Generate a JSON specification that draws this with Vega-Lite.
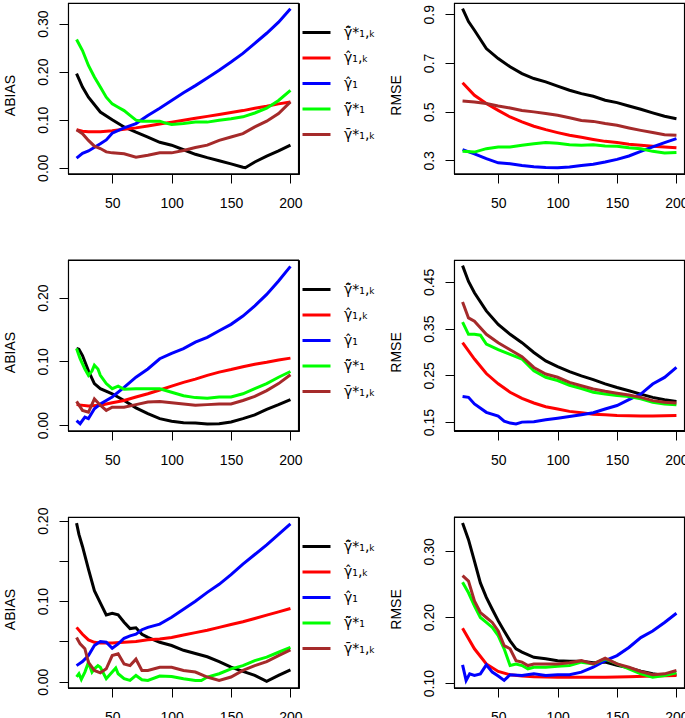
{
"$schema": "https://vega.github.io/schema/vega-lite/v6.json",
"background": "white",
"padding": {"left": 2, "top": 1, "right": 0, "bottom": 0},
"config": {
  "font": "Liberation Sans",
  "view": {"stroke": "black", "strokeWidth": 1},
  "axis": {"grid": false, "domain": true, "domainColor": "black", "domainWidth": 1, "tickColor": "black", "tickSize": 9, "tickWidth": 1, "labelColor": "black", "labelFontSize": 14, "titleFontSize": 14, "titleFontWeight": "normal", "titleColor": "black", "labelFont": "Liberation Sans", "titleFont": "Liberation Sans", "labelOverlap": false, "labelFlush": false},
  "axisBottom": {"labelPadding": 24, "labelBaseline": "alphabetic", "labelAlign": "center"},
  "axisLeft": {"labelAngle": -90, "labelAlign": "center", "labelBaseline": "alphabetic", "labelPadding": 11.5, "titleAngle": -90, "titleX": -54, "titleY": 92, "titleBaseline": "alphabetic", "titleAlign": "center"},
  "rule": {"stroke": "black", "strokeWidth": 1.2},
  "legend": {"orient": "none", "legendX": 233, "legendY": 14, "title": null, "symbolType": "stroke", "symbolSize": 784, "symbolStrokeWidth": 3, "labelFontSize": 14, "labelFont": "DejaVu Sans", "labelColor": "black", "labelOffset": 12, "rowPadding": 2.5, "padding": 0}
},
"columns": 2,
"spacing": {"row": 86, "column": 155},
"bounds": "flush",
"resolve": {"scale": {"color": "independent", "x": "independent", "y": "independent"}, "legend": {"color": "independent"}},
"datasets": {
"box": [{"k": 1}],
"p1": [
{"s":"a","x":20,"y":0.196},{"s":"a","x":25,"y":0.168},{"s":"a","x":30,"y":0.147},{"s":"a","x":40,"y":0.116},{"s":"a","x":50,"y":0.100},{"s":"a","x":60,"y":0.085},{"s":"a","x":70,"y":0.074},{"s":"a","x":80,"y":0.064},{"s":"a","x":90,"y":0.053},{"s":"a","x":100,"y":0.047},{"s":"a","x":110,"y":0.0375},{"s":"a","x":120,"y":0.028},{"s":"a","x":130,"y":0.021},{"s":"a","x":140,"y":0.0146},{"s":"a","x":150,"y":0.008},{"s":"a","x":160,"y":0.001},{"s":"a","x":162,"y":0.0},{"s":"a","x":170,"y":0.012},{"s":"a","x":180,"y":0.024},{"s":"a","x":190,"y":0.035},{"s":"a","x":200,"y":0.047},
{"s":"b","x":20,"y":0.079},{"s":"b","x":25,"y":0.076},{"s":"b","x":30,"y":0.075},{"s":"b","x":40,"y":0.075},{"s":"b","x":50,"y":0.077},{"s":"b","x":60,"y":0.080},{"s":"b","x":70,"y":0.083},{"s":"b","x":80,"y":0.087},{"s":"b","x":90,"y":0.091},{"s":"b","x":100,"y":0.095},{"s":"b","x":110,"y":0.099},{"s":"b","x":120,"y":0.103},{"s":"b","x":130,"y":0.107},{"s":"b","x":140,"y":0.111},{"s":"b","x":150,"y":0.115},{"s":"b","x":160,"y":0.119},{"s":"b","x":170,"y":0.124},{"s":"b","x":180,"y":0.128},{"s":"b","x":190,"y":0.133},{"s":"b","x":200,"y":0.137},
{"s":"c","x":20,"y":0.020},{"s":"c","x":25,"y":0.030},{"s":"c","x":30,"y":0.035},{"s":"c","x":40,"y":0.050},{"s":"c","x":45,"y":0.058},{"s":"c","x":50,"y":0.072},{"s":"c","x":60,"y":0.083},{"s":"c","x":70,"y":0.092},{"s":"c","x":80,"y":0.109},{"s":"c","x":90,"y":0.124},{"s":"c","x":100,"y":0.140},{"s":"c","x":110,"y":0.156},{"s":"c","x":120,"y":0.171},{"s":"c","x":130,"y":0.187},{"s":"c","x":140,"y":0.203},{"s":"c","x":150,"y":0.220},{"s":"c","x":160,"y":0.238},{"s":"c","x":170,"y":0.259},{"s":"c","x":180,"y":0.280},{"s":"c","x":190,"y":0.303},{"s":"c","x":200,"y":0.331},
{"s":"d","x":20,"y":0.267},{"s":"d","x":25,"y":0.244},{"s":"d","x":30,"y":0.213},{"s":"d","x":35,"y":0.189},{"s":"d","x":40,"y":0.168},{"s":"d","x":45,"y":0.147},{"s":"d","x":50,"y":0.133},{"s":"d","x":55,"y":0.126},{"s":"d","x":60,"y":0.119},{"s":"d","x":65,"y":0.109},{"s":"d","x":70,"y":0.099},{"s":"d","x":75,"y":0.097},{"s":"d","x":80,"y":0.097},{"s":"d","x":90,"y":0.097},{"s":"d","x":95,"y":0.093},{"s":"d","x":100,"y":0.090},{"s":"d","x":110,"y":0.092},{"s":"d","x":120,"y":0.095},{"s":"d","x":130,"y":0.095},{"s":"d","x":140,"y":0.099},{"s":"d","x":150,"y":0.102},{"s":"d","x":160,"y":0.106},{"s":"d","x":170,"y":0.114},{"s":"d","x":180,"y":0.124},{"s":"d","x":190,"y":0.140},{"s":"d","x":200,"y":0.161},
{"s":"e","x":20,"y":0.079},{"s":"e","x":25,"y":0.071},{"s":"e","x":30,"y":0.057},{"s":"e","x":35,"y":0.045},{"s":"e","x":40,"y":0.040},{"s":"e","x":45,"y":0.033},{"s":"e","x":50,"y":0.031},{"s":"e","x":60,"y":0.029},{"s":"e","x":70,"y":0.022},{"s":"e","x":80,"y":0.026},{"s":"e","x":90,"y":0.031},{"s":"e","x":100,"y":0.031},{"s":"e","x":110,"y":0.036},{"s":"e","x":120,"y":0.042},{"s":"e","x":130,"y":0.047},{"s":"e","x":140,"y":0.057},{"s":"e","x":150,"y":0.064},{"s":"e","x":160,"y":0.071},{"s":"e","x":170,"y":0.085},{"s":"e","x":180,"y":0.097},{"s":"e","x":190,"y":0.113},{"s":"e","x":200,"y":0.137}
],
"p2": [
{"s":"a","x":20,"y":0.923},{"s":"a","x":25,"y":0.870},{"s":"a","x":30,"y":0.834},{"s":"a","x":40,"y":0.759},{"s":"a","x":50,"y":0.718},{"s":"a","x":60,"y":0.684},{"s":"a","x":70,"y":0.656},{"s":"a","x":80,"y":0.636},{"s":"a","x":90,"y":0.622},{"s":"a","x":100,"y":0.605},{"s":"a","x":110,"y":0.588},{"s":"a","x":120,"y":0.574},{"s":"a","x":130,"y":0.563},{"s":"a","x":140,"y":0.547},{"s":"a","x":150,"y":0.537},{"s":"a","x":160,"y":0.523},{"s":"a","x":170,"y":0.510},{"s":"a","x":180,"y":0.495},{"s":"a","x":190,"y":0.481},{"s":"a","x":200,"y":0.471},
{"s":"b","x":20,"y":0.619},{"s":"b","x":30,"y":0.567},{"s":"b","x":40,"y":0.533},{"s":"b","x":50,"y":0.505},{"s":"b","x":60,"y":0.478},{"s":"b","x":70,"y":0.458},{"s":"b","x":80,"y":0.440},{"s":"b","x":90,"y":0.426},{"s":"b","x":100,"y":0.414},{"s":"b","x":110,"y":0.403},{"s":"b","x":120,"y":0.395},{"s":"b","x":130,"y":0.386},{"s":"b","x":140,"y":0.378},{"s":"b","x":150,"y":0.373},{"s":"b","x":160,"y":0.366},{"s":"b","x":170,"y":0.362},{"s":"b","x":180,"y":0.358},{"s":"b","x":190,"y":0.355},{"s":"b","x":200,"y":0.352},
{"s":"c","x":20,"y":0.344},{"s":"c","x":30,"y":0.327},{"s":"c","x":40,"y":0.307},{"s":"c","x":50,"y":0.290},{"s":"c","x":60,"y":0.286},{"s":"c","x":70,"y":0.279},{"s":"c","x":80,"y":0.274},{"s":"c","x":90,"y":0.271},{"s":"c","x":100,"y":0.270},{"s":"c","x":110,"y":0.273},{"s":"c","x":120,"y":0.279},{"s":"c","x":130,"y":0.284},{"s":"c","x":140,"y":0.293},{"s":"c","x":150,"y":0.304},{"s":"c","x":160,"y":0.318},{"s":"c","x":170,"y":0.337},{"s":"c","x":180,"y":0.355},{"s":"c","x":190,"y":0.373},{"s":"c","x":200,"y":0.389},
{"s":"d","x":20,"y":0.337},{"s":"d","x":30,"y":0.334},{"s":"d","x":40,"y":0.348},{"s":"d","x":50,"y":0.355},{"s":"d","x":60,"y":0.355},{"s":"d","x":70,"y":0.362},{"s":"d","x":80,"y":0.368},{"s":"d","x":90,"y":0.373},{"s":"d","x":100,"y":0.370},{"s":"d","x":110,"y":0.364},{"s":"d","x":120,"y":0.362},{"s":"d","x":130,"y":0.364},{"s":"d","x":140,"y":0.359},{"s":"d","x":150,"y":0.358},{"s":"d","x":160,"y":0.352},{"s":"d","x":170,"y":0.348},{"s":"d","x":180,"y":0.337},{"s":"d","x":190,"y":0.330},{"s":"d","x":200,"y":0.332},
{"s":"e","x":20,"y":0.544},{"s":"e","x":30,"y":0.540},{"s":"e","x":40,"y":0.533},{"s":"e","x":50,"y":0.523},{"s":"e","x":60,"y":0.515},{"s":"e","x":70,"y":0.505},{"s":"e","x":80,"y":0.499},{"s":"e","x":90,"y":0.492},{"s":"e","x":100,"y":0.485},{"s":"e","x":110,"y":0.475},{"s":"e","x":120,"y":0.464},{"s":"e","x":130,"y":0.460},{"s":"e","x":140,"y":0.451},{"s":"e","x":150,"y":0.444},{"s":"e","x":160,"y":0.433},{"s":"e","x":170,"y":0.423},{"s":"e","x":180,"y":0.414},{"s":"e","x":190,"y":0.405},{"s":"e","x":200,"y":0.403}
],
"p3": [
{"s":"a","x":20,"y":0.120},{"s":"a","x":22,"y":0.119},{"s":"a","x":25,"y":0.109},{"s":"a","x":30,"y":0.085},{"s":"a","x":35,"y":0.065},{"s":"a","x":40,"y":0.057},{"s":"a","x":50,"y":0.049},{"s":"a","x":60,"y":0.0385},{"s":"a","x":70,"y":0.027},{"s":"a","x":80,"y":0.018},{"s":"a","x":90,"y":0.010},{"s":"a","x":100,"y":0.006},{"s":"a","x":110,"y":0.0036},{"s":"a","x":120,"y":0.003},{"s":"a","x":130,"y":0.0016},{"s":"a","x":140,"y":0.002},{"s":"a","x":150,"y":0.0047},{"s":"a","x":160,"y":0.010},{"s":"a","x":170,"y":0.016},{"s":"a","x":180,"y":0.0245},{"s":"a","x":190,"y":0.032},{"s":"a","x":200,"y":0.040},
{"s":"b","x":20,"y":0.032},{"s":"b","x":30,"y":0.030},{"s":"b","x":40,"y":0.031},{"s":"b","x":50,"y":0.035},{"s":"b","x":60,"y":0.0385},{"s":"b","x":70,"y":0.044},{"s":"b","x":80,"y":0.049},{"s":"b","x":90,"y":0.055},{"s":"b","x":100,"y":0.061},{"s":"b","x":110,"y":0.067},{"s":"b","x":120,"y":0.072},{"s":"b","x":130,"y":0.078},{"s":"b","x":140,"y":0.083},{"s":"b","x":150,"y":0.087},{"s":"b","x":160,"y":0.0915},{"s":"b","x":170,"y":0.0955},{"s":"b","x":180,"y":0.0985},{"s":"b","x":190,"y":0.102},{"s":"b","x":200,"y":0.105},
{"s":"c","x":20,"y":0.007},{"s":"c","x":23,"y":0.002},{"s":"c","x":27,"y":0.0125},{"s":"c","x":30,"y":0.010},{"s":"c","x":35,"y":0.0255},{"s":"c","x":40,"y":0.033},{"s":"c","x":50,"y":0.044},{"s":"c","x":60,"y":0.059},{"s":"c","x":70,"y":0.075},{"s":"c","x":80,"y":0.088},{"s":"c","x":90,"y":0.104},{"s":"c","x":100,"y":0.1125},{"s":"c","x":110,"y":0.120},{"s":"c","x":120,"y":0.130},{"s":"c","x":130,"y":0.1375},{"s":"c","x":140,"y":0.148},{"s":"c","x":150,"y":0.158},{"s":"c","x":160,"y":0.171},{"s":"c","x":170,"y":0.187},{"s":"c","x":180,"y":0.205},{"s":"c","x":190,"y":0.226},{"s":"c","x":200,"y":0.249},
{"s":"d","x":20,"y":0.120},{"s":"d","x":23,"y":0.104},{"s":"d","x":27,"y":0.088},{"s":"d","x":30,"y":0.078},{"s":"d","x":33,"y":0.085},{"s":"d","x":35,"y":0.094},{"s":"d","x":38,"y":0.088},{"s":"d","x":40,"y":0.078},{"s":"d","x":45,"y":0.065},{"s":"d","x":50,"y":0.057},{"s":"d","x":55,"y":0.061},{"s":"d","x":60,"y":0.056},{"s":"d","x":70,"y":0.057},{"s":"d","x":80,"y":0.057},{"s":"d","x":90,"y":0.057},{"s":"d","x":100,"y":0.0515},{"s":"d","x":110,"y":0.046},{"s":"d","x":120,"y":0.043},{"s":"d","x":130,"y":0.042},{"s":"d","x":140,"y":0.044},{"s":"d","x":150,"y":0.044},{"s":"d","x":160,"y":0.049},{"s":"d","x":170,"y":0.057},{"s":"d","x":180,"y":0.065},{"s":"d","x":190,"y":0.075},{"s":"d","x":200,"y":0.084},
{"s":"e","x":20,"y":0.037},{"s":"e","x":25,"y":0.023},{"s":"e","x":30,"y":0.020},{"s":"e","x":35,"y":0.041},{"s":"e","x":40,"y":0.031},{"s":"e","x":45,"y":0.023},{"s":"e","x":50,"y":0.028},{"s":"e","x":60,"y":0.028},{"s":"e","x":70,"y":0.032},{"s":"e","x":80,"y":0.036},{"s":"e","x":90,"y":0.037},{"s":"e","x":100,"y":0.035},{"s":"e","x":110,"y":0.033},{"s":"e","x":120,"y":0.031},{"s":"e","x":130,"y":0.032},{"s":"e","x":140,"y":0.033},{"s":"e","x":150,"y":0.033},{"s":"e","x":160,"y":0.0385},{"s":"e","x":170,"y":0.045},{"s":"e","x":180,"y":0.054},{"s":"e","x":190,"y":0.065},{"s":"e","x":200,"y":0.079}
],
"p4": [
{"s":"a","x":20,"y":0.485},{"s":"a","x":25,"y":0.451},{"s":"a","x":30,"y":0.427},{"s":"a","x":40,"y":0.388},{"s":"a","x":50,"y":0.359},{"s":"a","x":60,"y":0.338},{"s":"a","x":70,"y":0.320},{"s":"a","x":80,"y":0.299},{"s":"a","x":90,"y":0.281},{"s":"a","x":100,"y":0.269},{"s":"a","x":110,"y":0.258},{"s":"a","x":120,"y":0.249},{"s":"a","x":130,"y":0.241},{"s":"a","x":140,"y":0.232},{"s":"a","x":150,"y":0.224},{"s":"a","x":160,"y":0.217},{"s":"a","x":170,"y":0.210},{"s":"a","x":180,"y":0.203},{"s":"a","x":190,"y":0.198},{"s":"a","x":200,"y":0.194},
{"s":"b","x":20,"y":0.320},{"s":"b","x":30,"y":0.285},{"s":"b","x":40,"y":0.254},{"s":"b","x":50,"y":0.232},{"s":"b","x":60,"y":0.214},{"s":"b","x":70,"y":0.201},{"s":"b","x":80,"y":0.191},{"s":"b","x":90,"y":0.183},{"s":"b","x":100,"y":0.178},{"s":"b","x":110,"y":0.173},{"s":"b","x":120,"y":0.170},{"s":"b","x":130,"y":0.167},{"s":"b","x":140,"y":0.1656},{"s":"b","x":150,"y":0.164},{"s":"b","x":160,"y":0.1635},{"s":"b","x":170,"y":0.163},{"s":"b","x":180,"y":0.163},{"s":"b","x":190,"y":0.1635},{"s":"b","x":200,"y":0.164},
{"s":"c","x":20,"y":0.205},{"s":"c","x":25,"y":0.203},{"s":"c","x":30,"y":0.189},{"s":"c","x":40,"y":0.171},{"s":"c","x":50,"y":0.163},{"s":"c","x":55,"y":0.152},{"s":"c","x":60,"y":0.148},{"s":"c","x":65,"y":0.146},{"s":"c","x":70,"y":0.150},{"s":"c","x":80,"y":0.151},{"s":"c","x":90,"y":0.155},{"s":"c","x":100,"y":0.1585},{"s":"c","x":110,"y":0.162},{"s":"c","x":120,"y":0.1656},{"s":"c","x":130,"y":0.170},{"s":"c","x":140,"y":0.178},{"s":"c","x":150,"y":0.1855},{"s":"c","x":160,"y":0.198},{"s":"c","x":170,"y":0.210},{"s":"c","x":180,"y":0.2316},{"s":"c","x":190,"y":0.2457},{"s":"c","x":200,"y":0.267},
{"s":"d","x":20,"y":0.364},{"s":"d","x":25,"y":0.338},{"s":"d","x":30,"y":0.338},{"s":"d","x":35,"y":0.336},{"s":"d","x":40,"y":0.317},{"s":"d","x":50,"y":0.305},{"s":"d","x":60,"y":0.295},{"s":"d","x":70,"y":0.285},{"s":"d","x":80,"y":0.260},{"s":"d","x":90,"y":0.246},{"s":"d","x":100,"y":0.239},{"s":"d","x":110,"y":0.229},{"s":"d","x":120,"y":0.222},{"s":"d","x":130,"y":0.214},{"s":"d","x":140,"y":0.210},{"s":"d","x":150,"y":0.207},{"s":"d","x":160,"y":0.205},{"s":"d","x":170,"y":0.200},{"s":"d","x":180,"y":0.1925},{"s":"d","x":190,"y":0.189},{"s":"d","x":200,"y":0.187},
{"s":"e","x":20,"y":0.407},{"s":"e","x":25,"y":0.373},{"s":"e","x":30,"y":0.366},{"s":"e","x":35,"y":0.352},{"s":"e","x":40,"y":0.338},{"s":"e","x":50,"y":0.320},{"s":"e","x":60,"y":0.305},{"s":"e","x":70,"y":0.290},{"s":"e","x":80,"y":0.267},{"s":"e","x":90,"y":0.253},{"s":"e","x":100,"y":0.246},{"s":"e","x":110,"y":0.235},{"s":"e","x":120,"y":0.228},{"s":"e","x":130,"y":0.221},{"s":"e","x":140,"y":0.216},{"s":"e","x":150,"y":0.212},{"s":"e","x":160,"y":0.208},{"s":"e","x":170,"y":0.203},{"s":"e","x":180,"y":0.196},{"s":"e","x":190,"y":0.1925},{"s":"e","x":200,"y":0.191}
],
"p5": [
{"s":"a","x":20,"y":0.197},{"s":"a","x":22,"y":0.183},{"s":"a","x":25,"y":0.168},{"s":"a","x":30,"y":0.140},{"s":"a","x":35,"y":0.113},{"s":"a","x":40,"y":0.098},{"s":"a","x":45,"y":0.083},{"s":"a","x":50,"y":0.085},{"s":"a","x":55,"y":0.083},{"s":"a","x":60,"y":0.074},{"s":"a","x":65,"y":0.066},{"s":"a","x":70,"y":0.067},{"s":"a","x":75,"y":0.059},{"s":"a","x":80,"y":0.055},{"s":"a","x":90,"y":0.049},{"s":"a","x":100,"y":0.045},{"s":"a","x":110,"y":0.039},{"s":"a","x":120,"y":0.035},{"s":"a","x":130,"y":0.031},{"s":"a","x":140,"y":0.025},{"s":"a","x":150,"y":0.018},{"s":"a","x":160,"y":0.0128},{"s":"a","x":170,"y":0.0078},{"s":"a","x":180,"y":0.0004},{"s":"a","x":190,"y":0.0078},{"s":"a","x":200,"y":0.0148},
{"s":"b","x":20,"y":0.0675},{"s":"b","x":25,"y":0.059},{"s":"b","x":30,"y":0.052},{"s":"b","x":35,"y":0.049},{"s":"b","x":40,"y":0.048},{"s":"b","x":50,"y":0.048},{"s":"b","x":60,"y":0.049},{"s":"b","x":70,"y":0.050},{"s":"b","x":80,"y":0.052},{"s":"b","x":90,"y":0.053},{"s":"b","x":100,"y":0.055},{"s":"b","x":110,"y":0.058},{"s":"b","x":120,"y":0.061},{"s":"b","x":130,"y":0.064},{"s":"b","x":140,"y":0.0675},{"s":"b","x":150,"y":0.071},{"s":"b","x":160,"y":0.0745},{"s":"b","x":170,"y":0.0786},{"s":"b","x":180,"y":0.0827},{"s":"b","x":190,"y":0.0868},{"s":"b","x":200,"y":0.091},
{"s":"c","x":20,"y":0.020},{"s":"c","x":25,"y":0.025},{"s":"c","x":30,"y":0.0325},{"s":"c","x":35,"y":0.045},{"s":"c","x":40,"y":0.050},{"s":"c","x":45,"y":0.049},{"s":"c","x":50,"y":0.0416},{"s":"c","x":55,"y":0.047},{"s":"c","x":60,"y":0.054},{"s":"c","x":65,"y":0.057},{"s":"c","x":70,"y":0.059},{"s":"c","x":75,"y":0.0646},{"s":"c","x":80,"y":0.0675},{"s":"c","x":90,"y":0.0716},{"s":"c","x":100,"y":0.080},{"s":"c","x":110,"y":0.090},{"s":"c","x":120,"y":0.100},{"s":"c","x":130,"y":0.111},{"s":"c","x":140,"y":0.121},{"s":"c","x":150,"y":0.133},{"s":"c","x":160,"y":0.146},{"s":"c","x":170,"y":0.158},{"s":"c","x":180,"y":0.170},{"s":"c","x":190,"y":0.183},{"s":"c","x":200,"y":0.196},
{"s":"d","x":20,"y":0.006},{"s":"d","x":22,"y":0.0099},{"s":"d","x":24,"y":0.003},{"s":"d","x":27,"y":0.012},{"s":"d","x":30,"y":0.024},{"s":"d","x":33,"y":0.012},{"s":"d","x":35,"y":0.016},{"s":"d","x":38,"y":0.020},{"s":"d","x":40,"y":0.018},{"s":"d","x":45,"y":0.0037},{"s":"d","x":50,"y":0.012},{"s":"d","x":53,"y":0.017},{"s":"d","x":55,"y":0.0099},{"s":"d","x":60,"y":0.0037},{"s":"d","x":65,"y":0.0016},{"s":"d","x":70,"y":0.0078},{"s":"d","x":75,"y":0.0025},{"s":"d","x":80,"y":0.0016},{"s":"d","x":90,"y":0.007},{"s":"d","x":100,"y":0.0066},{"s":"d","x":110,"y":0.0037},{"s":"d","x":120,"y":0.0016},{"s":"d","x":125,"y":0.0016},{"s":"d","x":130,"y":0.0058},{"s":"d","x":140,"y":0.0099},{"s":"d","x":150,"y":0.016},{"s":"d","x":160,"y":0.020},{"s":"d","x":170,"y":0.0263},{"s":"d","x":180,"y":0.0305},{"s":"d","x":190,"y":0.0366},{"s":"d","x":200,"y":0.0428},
{"s":"e","x":20,"y":0.055},{"s":"e","x":23,"y":0.047},{"s":"e","x":27,"y":0.041},{"s":"e","x":30,"y":0.024},{"s":"e","x":35,"y":0.014},{"s":"e","x":40,"y":0.011},{"s":"e","x":45,"y":0.016},{"s":"e","x":50,"y":0.0325},{"s":"e","x":55,"y":0.0346},{"s":"e","x":60,"y":0.022},{"s":"e","x":65,"y":0.020},{"s":"e","x":70,"y":0.028},{"s":"e","x":75,"y":0.014},{"s":"e","x":80,"y":0.014},{"s":"e","x":90,"y":0.018},{"s":"e","x":100,"y":0.018},{"s":"e","x":110,"y":0.014},{"s":"e","x":120,"y":0.012},{"s":"e","x":130,"y":0.0058},{"s":"e","x":140,"y":0.0016},{"s":"e","x":150,"y":0.0058},{"s":"e","x":160,"y":0.014},{"s":"e","x":170,"y":0.020},{"s":"e","x":180,"y":0.025},{"s":"e","x":190,"y":0.0325},{"s":"e","x":200,"y":0.0395}
],
"p6": [
{"s":"a","x":20,"y":0.343},{"s":"a","x":25,"y":0.3176},{"s":"a","x":30,"y":0.285},{"s":"a","x":35,"y":0.252},{"s":"a","x":40,"y":0.230},{"s":"a","x":45,"y":0.212},{"s":"a","x":50,"y":0.1945},{"s":"a","x":55,"y":0.179},{"s":"a","x":60,"y":0.164},{"s":"a","x":65,"y":0.152},{"s":"a","x":70,"y":0.147},{"s":"a","x":80,"y":0.139},{"s":"a","x":90,"y":0.137},{"s":"a","x":100,"y":0.134},{"s":"a","x":110,"y":0.133},{"s":"a","x":120,"y":0.133},{"s":"a","x":130,"y":0.131},{"s":"a","x":140,"y":0.132},{"s":"a","x":150,"y":0.127},{"s":"a","x":160,"y":0.123},{"s":"a","x":170,"y":0.118},{"s":"a","x":180,"y":0.114},{"s":"a","x":190,"y":0.1116},{"s":"a","x":200,"y":0.1126},
{"s":"b","x":20,"y":0.183},{"s":"b","x":30,"y":0.152},{"s":"b","x":40,"y":0.129},{"s":"b","x":50,"y":0.1176},{"s":"b","x":60,"y":0.1126},{"s":"b","x":70,"y":0.1106},{"s":"b","x":80,"y":0.1095},{"s":"b","x":100,"y":0.109},{"s":"b","x":120,"y":0.109},{"s":"b","x":140,"y":0.109},{"s":"b","x":160,"y":0.1095},{"s":"b","x":180,"y":0.1106},{"s":"b","x":200,"y":0.1116},
{"s":"c","x":20,"y":0.1276},{"s":"c","x":23,"y":0.104},{"s":"c","x":26,"y":0.114},{"s":"c","x":30,"y":0.1116},{"s":"c","x":35,"y":0.114},{"s":"c","x":40,"y":0.1276},{"s":"c","x":45,"y":0.1166},{"s":"c","x":50,"y":0.1106},{"s":"c","x":55,"y":0.104},{"s":"c","x":60,"y":0.1126},{"s":"c","x":70,"y":0.1116},{"s":"c","x":80,"y":0.114},{"s":"c","x":90,"y":0.1116},{"s":"c","x":100,"y":0.1126},{"s":"c","x":110,"y":0.1126},{"s":"c","x":120,"y":0.1166},{"s":"c","x":130,"y":0.124},{"s":"c","x":140,"y":0.134},{"s":"c","x":150,"y":0.1417},{"s":"c","x":160,"y":0.154},{"s":"c","x":170,"y":0.169},{"s":"c","x":180,"y":0.179},{"s":"c","x":190,"y":0.192},{"s":"c","x":200,"y":0.206},
{"s":"d","x":20,"y":0.253},{"s":"d","x":25,"y":0.237},{"s":"d","x":30,"y":0.217},{"s":"d","x":35,"y":0.1995},{"s":"d","x":40,"y":0.192},{"s":"d","x":45,"y":0.1844},{"s":"d","x":50,"y":0.172},{"s":"d","x":55,"y":0.152},{"s":"d","x":60,"y":0.1266},{"s":"d","x":65,"y":0.129},{"s":"d","x":70,"y":0.1266},{"s":"d","x":75,"y":0.1216},{"s":"d","x":80,"y":0.124},{"s":"d","x":90,"y":0.124},{"s":"d","x":100,"y":0.1256},{"s":"d","x":110,"y":0.1266},{"s":"d","x":120,"y":0.1317},{"s":"d","x":130,"y":0.129},{"s":"d","x":140,"y":0.1367},{"s":"d","x":150,"y":0.129},{"s":"d","x":160,"y":0.1216},{"s":"d","x":170,"y":0.114},{"s":"d","x":180,"y":0.109},{"s":"d","x":190,"y":0.1116},{"s":"d","x":200,"y":0.1156},
{"s":"e","x":20,"y":0.263},{"s":"e","x":25,"y":0.2548},{"s":"e","x":30,"y":0.2246},{"s":"e","x":35,"y":0.207},{"s":"e","x":40,"y":0.1995},{"s":"e","x":45,"y":0.192},{"s":"e","x":50,"y":0.179},{"s":"e","x":55,"y":0.1568},{"s":"e","x":60,"y":0.152},{"s":"e","x":65,"y":0.134},{"s":"e","x":70,"y":0.1317},{"s":"e","x":75,"y":0.1266},{"s":"e","x":80,"y":0.129},{"s":"e","x":90,"y":0.129},{"s":"e","x":100,"y":0.129},{"s":"e","x":110,"y":0.1307},{"s":"e","x":120,"y":0.134},{"s":"e","x":130,"y":0.129},{"s":"e","x":140,"y":0.1377},{"s":"e","x":150,"y":0.129},{"s":"e","x":160,"y":0.124},{"s":"e","x":170,"y":0.1176},{"s":"e","x":180,"y":0.1126},{"s":"e","x":190,"y":0.114},{"s":"e","x":200,"y":0.119}
]
},
"concat": [
{"width": 231, "height": 171, "view": {"stroke": "black", "strokeWidth": 1},
 "layer": [
  {"data": {"name": "p1"}, "mark": {"type": "line", "strokeWidth": 3},
   "encoding": {
    "x": {"field": "x", "type": "quantitative", "scale": {"domain": [12.8, 207.2], "nice": false, "zero": false}, "axis": {"domain": true, "domainColor": "black", "values": [50, 100, 150, 200], "title": null}},
    "y": {"field": "y", "type": "quantitative", "scale": {"domain": [-0.013, 0.343], "nice": false, "zero": false}, "axis": {"domain": true, "domainColor": "black", "title": "ABIAS", "values": [0, 0.05, 0.1, 0.15, 0.2, 0.25, 0.3], "labelExpr": "round(datum.value*20)%2==0 ? format(datum.value,'.2f') : ''"}},
    "color": {"field": "s", "type": "nominal", "scale": {"domain": ["a","b","c","d","e"], "range": ["#000000","#FF0000","#0000FF","#00FF00","#A52A2A"]}, "legend": {"orient": "none", "legendX": 233, "legendY": 14, "labelExpr": "datum.label=='a'?'γ\u0302\u0303*\u2081,\u2096':datum.label=='b'?'γ\u0302\u2081,\u2096':datum.label=='c'?'γ\u0302\u2081':datum.label=='d'?'γ\u0303\u0303*\u2081':'γ\u0304*\u2081,\u2096'"}}
   }},
  {"data": {"name": "box"}, "mark": {"type": "rule", "stroke": "black", "strokeWidth": 1.2}, "encoding": {"x": {"datum": 13.2, "type": "quantitative"}, "y": {"datum": -0.013, "type": "quantitative"}, "y2": {"datum": 0.343}}},
  {"data": {"name": "box"}, "mark": {"type": "rule", "stroke": "black", "strokeWidth": 1.2}, "encoding": {"x": {"datum": 206.8, "type": "quantitative"}, "y": {"datum": -0.013, "type": "quantitative"}, "y2": {"datum": 0.343}}},
  {"data": {"name": "box"}, "mark": {"type": "rule", "stroke": "black", "strokeWidth": 1.2}, "encoding": {"y": {"datum": 0.3425, "type": "quantitative"}, "x": {"datum": 12.8, "type": "quantitative"}, "x2": {"datum": 207.2}}},
  {"data": {"name": "box"}, "mark": {"type": "rule", "stroke": "black", "strokeWidth": 1.2}, "encoding": {"y": {"datum": -0.0125, "type": "quantitative"}, "x": {"datum": 12.8, "type": "quantitative"}, "x2": {"datum": 207.2}}}
 ]},
{"width": 231, "height": 171, "view": {"stroke": "black", "strokeWidth": 1},
 "layer": [
  {"data": {"name": "p2"}, "mark": {"type": "line", "strokeWidth": 3},
   "encoding": {
    "x": {"field": "x", "type": "quantitative", "scale": {"domain": [12.8, 207.2], "nice": false, "zero": false}, "axis": {"domain": true, "domainColor": "black", "values": [50, 100, 150, 200], "title": null}},
    "y": {"field": "y", "type": "quantitative", "scale": {"domain": [0.244, 0.946], "nice": false, "zero": false}, "axis": {"domain": true, "domainColor": "black", "title": "RMSE", "values": [0.3, 0.4, 0.5, 0.6, 0.7, 0.8, 0.9], "labelExpr": "round(datum.value*10)%2==1 ? format(datum.value,'.1f') : ''"}},
    "color": {"field": "s", "type": "nominal", "scale": {"domain": ["a","b","c","d","e"], "range": ["#000000","#FF0000","#0000FF","#00FF00","#A52A2A"]}, "legend": null}
   }},
  {"data": {"name": "box"}, "mark": {"type": "rule", "stroke": "black", "strokeWidth": 1.2}, "encoding": {"x": {"datum": 13.2, "type": "quantitative"}, "y": {"datum": 0.244, "type": "quantitative"}, "y2": {"datum": 0.946}}},
  {"data": {"name": "box"}, "mark": {"type": "rule", "stroke": "black", "strokeWidth": 1.2}, "encoding": {"x": {"datum": 206.8, "type": "quantitative"}, "y": {"datum": 0.244, "type": "quantitative"}, "y2": {"datum": 0.946}}},
  {"data": {"name": "box"}, "mark": {"type": "rule", "stroke": "black", "strokeWidth": 1.2}, "encoding": {"y": {"datum": 0.945, "type": "quantitative"}, "x": {"datum": 12.8, "type": "quantitative"}, "x2": {"datum": 207.2}}},
  {"data": {"name": "box"}, "mark": {"type": "rule", "stroke": "black", "strokeWidth": 1.2}, "encoding": {"y": {"datum": 0.245, "type": "quantitative"}, "x": {"datum": 12.8, "type": "quantitative"}, "x2": {"datum": 207.2}}}
 ]},
{"width": 231, "height": 171, "view": {"stroke": "black", "strokeWidth": 1},
 "layer": [
  {"data": {"name": "p3"}, "mark": {"type": "line", "strokeWidth": 3},
   "encoding": {
    "x": {"field": "x", "type": "quantitative", "scale": {"domain": [12.8, 207.2], "nice": false, "zero": false}, "axis": {"domain": true, "domainColor": "black", "values": [50, 100, 150, 200], "title": null}},
    "y": {"field": "y", "type": "quantitative", "scale": {"domain": [-0.0094, 0.259], "nice": false, "zero": false}, "axis": {"domain": true, "domainColor": "black", "title": "ABIAS", "values": [0, 0.05, 0.1, 0.15, 0.2, 0.25], "labelExpr": "round(datum.value*20)%2==0 ? format(datum.value,'.2f') : ''"}},
    "color": {"field": "s", "type": "nominal", "scale": {"domain": ["a","b","c","d","e"], "range": ["#000000","#FF0000","#0000FF","#00FF00","#A52A2A"]}, "legend": {"orient": "none", "legendX": 233, "legendY": 14, "labelExpr": "datum.label=='a'?'γ\u0302\u0303*\u2081,\u2096':datum.label=='b'?'γ\u0302\u2081,\u2096':datum.label=='c'?'γ\u0302\u2081':datum.label=='d'?'γ\u0303\u0303*\u2081':'γ\u0304*\u2081,\u2096'"}}
   }},
  {"data": {"name": "box"}, "mark": {"type": "rule", "stroke": "black", "strokeWidth": 1.2}, "encoding": {"x": {"datum": 13.2, "type": "quantitative"}, "y": {"datum": -0.0094, "type": "quantitative"}, "y2": {"datum": 0.259}}},
  {"data": {"name": "box"}, "mark": {"type": "rule", "stroke": "black", "strokeWidth": 1.2}, "encoding": {"x": {"datum": 206.8, "type": "quantitative"}, "y": {"datum": -0.0094, "type": "quantitative"}, "y2": {"datum": 0.259}}},
  {"data": {"name": "box"}, "mark": {"type": "rule", "stroke": "black", "strokeWidth": 1.2}, "encoding": {"y": {"datum": 0.2587, "type": "quantitative"}, "x": {"datum": 12.8, "type": "quantitative"}, "x2": {"datum": 207.2}}},
  {"data": {"name": "box"}, "mark": {"type": "rule", "stroke": "black", "strokeWidth": 1.2}, "encoding": {"y": {"datum": -0.0091, "type": "quantitative"}, "x": {"datum": 12.8, "type": "quantitative"}, "x2": {"datum": 207.2}}}
 ]},
{"width": 231, "height": 171, "view": {"stroke": "black", "strokeWidth": 1},
 "layer": [
  {"data": {"name": "p4"}, "mark": {"type": "line", "strokeWidth": 3},
   "encoding": {
    "x": {"field": "x", "type": "quantitative", "scale": {"domain": [12.8, 207.2], "nice": false, "zero": false}, "axis": {"domain": true, "domainColor": "black", "values": [50, 100, 150, 200], "title": null}},
    "y": {"field": "y", "type": "quantitative", "scale": {"domain": [0.131, 0.497], "nice": false, "zero": false}, "axis": {"domain": true, "domainColor": "black", "title": "RMSE", "values": [0.15, 0.2, 0.25, 0.3, 0.35, 0.4, 0.45], "labelExpr": "round(datum.value*20)%2==1 ? format(datum.value,'.2f') : ''"}},
    "color": {"field": "s", "type": "nominal", "scale": {"domain": ["a","b","c","d","e"], "range": ["#000000","#FF0000","#0000FF","#00FF00","#A52A2A"]}, "legend": null}
   }},
  {"data": {"name": "box"}, "mark": {"type": "rule", "stroke": "black", "strokeWidth": 1.2}, "encoding": {"x": {"datum": 13.2, "type": "quantitative"}, "y": {"datum": 0.131, "type": "quantitative"}, "y2": {"datum": 0.497}}},
  {"data": {"name": "box"}, "mark": {"type": "rule", "stroke": "black", "strokeWidth": 1.2}, "encoding": {"x": {"datum": 206.8, "type": "quantitative"}, "y": {"datum": 0.131, "type": "quantitative"}, "y2": {"datum": 0.497}}},
  {"data": {"name": "box"}, "mark": {"type": "rule", "stroke": "black", "strokeWidth": 1.2}, "encoding": {"y": {"datum": 0.4964, "type": "quantitative"}, "x": {"datum": 12.8, "type": "quantitative"}, "x2": {"datum": 207.2}}},
  {"data": {"name": "box"}, "mark": {"type": "rule", "stroke": "black", "strokeWidth": 1.2}, "encoding": {"y": {"datum": 0.1316, "type": "quantitative"}, "x": {"datum": 12.8, "type": "quantitative"}, "x2": {"datum": 207.2}}}
 ]},
{"width": 231, "height": 171, "view": {"stroke": "black", "strokeWidth": 1},
 "layer": [
  {"data": {"name": "p5"}, "mark": {"type": "line", "strokeWidth": 3},
   "encoding": {
    "x": {"field": "x", "type": "quantitative", "scale": {"domain": [12.8, 207.2], "nice": false, "zero": false}, "axis": {"domain": true, "domainColor": "black", "values": [50, 100, 150, 200], "title": null}},
    "y": {"field": "y", "type": "quantitative", "scale": {"domain": [-0.0078, 0.2046], "nice": false, "zero": false}, "axis": {"domain": true, "domainColor": "black", "title": "ABIAS", "values": [0, 0.05, 0.1, 0.15, 0.2], "labelExpr": "round(datum.value*20)%2==0 ? format(datum.value,'.2f') : ''"}},
    "color": {"field": "s", "type": "nominal", "scale": {"domain": ["a","b","c","d","e"], "range": ["#000000","#FF0000","#0000FF","#00FF00","#A52A2A"]}, "legend": {"orient": "none", "legendX": 233, "legendY": 14, "labelExpr": "datum.label=='a'?'γ\u0302\u0303*\u2081,\u2096':datum.label=='b'?'γ\u0302\u2081,\u2096':datum.label=='c'?'γ\u0302\u2081':datum.label=='d'?'γ\u0303\u0303*\u2081':'γ\u0304*\u2081,\u2096'"}}
   }},
  {"data": {"name": "box"}, "mark": {"type": "rule", "stroke": "black", "strokeWidth": 1.2}, "encoding": {"x": {"datum": 13.2, "type": "quantitative"}, "y": {"datum": -0.0078, "type": "quantitative"}, "y2": {"datum": 0.2046}}},
  {"data": {"name": "box"}, "mark": {"type": "rule", "stroke": "black", "strokeWidth": 1.2}, "encoding": {"x": {"datum": 206.8, "type": "quantitative"}, "y": {"datum": -0.0078, "type": "quantitative"}, "y2": {"datum": 0.2046}}},
  {"data": {"name": "box"}, "mark": {"type": "rule", "stroke": "black", "strokeWidth": 1.2}, "encoding": {"y": {"datum": 0.2043, "type": "quantitative"}, "x": {"datum": 12.8, "type": "quantitative"}, "x2": {"datum": 207.2}}},
  {"data": {"name": "box"}, "mark": {"type": "rule", "stroke": "black", "strokeWidth": 1.2}, "encoding": {"y": {"datum": -0.0075, "type": "quantitative"}, "x": {"datum": 12.8, "type": "quantitative"}, "x2": {"datum": 207.2}}}
 ]},
{"width": 231, "height": 171, "view": {"stroke": "black", "strokeWidth": 1},
 "layer": [
  {"data": {"name": "p6"}, "mark": {"type": "line", "strokeWidth": 3},
   "encoding": {
    "x": {"field": "x", "type": "quantitative", "scale": {"domain": [12.8, 207.2], "nice": false, "zero": false}, "axis": {"domain": true, "domainColor": "black", "values": [50, 100, 150, 200], "title": null}},
    "y": {"field": "y", "type": "quantitative", "scale": {"domain": [0.0925, 0.352], "nice": false, "zero": false}, "axis": {"domain": true, "domainColor": "black", "title": "RMSE", "values": [0.1, 0.15, 0.2, 0.25, 0.3, 0.35], "labelExpr": "round(datum.value*20)%2==0 ? format(datum.value,'.2f') : ''"}},
    "color": {"field": "s", "type": "nominal", "scale": {"domain": ["a","b","c","d","e"], "range": ["#000000","#FF0000","#0000FF","#00FF00","#A52A2A"]}, "legend": null}
   }},
  {"data": {"name": "box"}, "mark": {"type": "rule", "stroke": "black", "strokeWidth": 1.2}, "encoding": {"x": {"datum": 13.2, "type": "quantitative"}, "y": {"datum": 0.0925, "type": "quantitative"}, "y2": {"datum": 0.352}}},
  {"data": {"name": "box"}, "mark": {"type": "rule", "stroke": "black", "strokeWidth": 1.2}, "encoding": {"x": {"datum": 206.8, "type": "quantitative"}, "y": {"datum": 0.0925, "type": "quantitative"}, "y2": {"datum": 0.352}}},
  {"data": {"name": "box"}, "mark": {"type": "rule", "stroke": "black", "strokeWidth": 1.2}, "encoding": {"y": {"datum": 0.3517, "type": "quantitative"}, "x": {"datum": 12.8, "type": "quantitative"}, "x2": {"datum": 207.2}}},
  {"data": {"name": "box"}, "mark": {"type": "rule", "stroke": "black", "strokeWidth": 1.2}, "encoding": {"y": {"datum": 0.0928, "type": "quantitative"}, "x": {"datum": 12.8, "type": "quantitative"}, "x2": {"datum": 207.2}}}
 ]}
]
}
